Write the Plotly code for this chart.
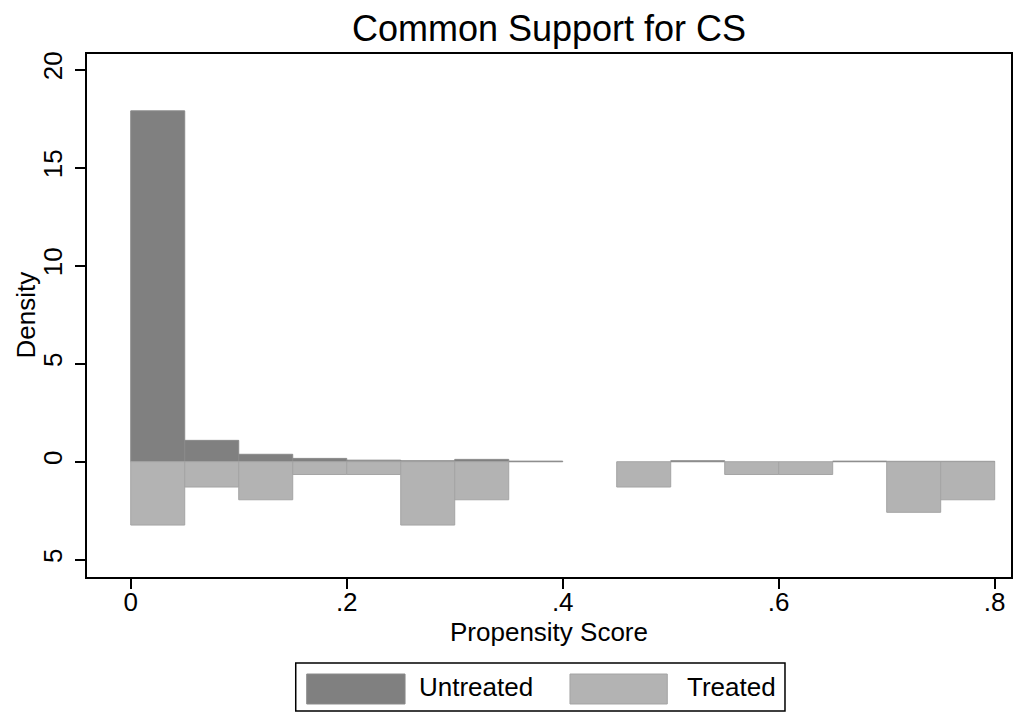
import plotly.graph_objects as go

# ---- data ----
bin_start = [0.00, 0.05, 0.10, 0.15, 0.20, 0.25, 0.30, 0.35,
             0.40, 0.45, 0.50, 0.55, 0.60, 0.65, 0.70, 0.75]
bin_width = 0.05
untreated_density = [17.9, 1.09, 0.38, 0.17, 0.08, 0.05, 0.12, 0.03,
                     0.0, 0.0, 0.05, 0.0, 0.0, 0.03, 0.02, 0.02]
treated_density = [3.23, 1.29, 1.94, 0.65, 0.65, 3.23, 1.94, 0.0,
                   0.0, 1.29, 0.0, 0.65, 0.65, 0.0, 2.58, 1.94]

x_ticks = [0, 0.2, 0.4, 0.6, 0.8]
x_ticktext = ["0", ".2", ".4", ".6", ".8"]
y_ticks = [-5, 0, 5, 10, 15, 20]
y_ticktext = ["5", "0", "5", "10", "15", "20"]

series_names = ["Untreated", "Treated"]
fill_colors = ["#808080", "#b3b3b3"]
line_colors = ["#8a8a8a", "#a4a4a4"]

FONT = "Liberation Sans, Arial, sans-serif"

# empty bins draw nothing
untreated_y = [v if v > 0 else None for v in untreated_density]
treated_y = [-v if v > 0 else None for v in treated_density]

fig = go.Figure()
fig.add_trace(go.Bar(
    x=bin_start, y=untreated_y, base=0, width=bin_width, offset=0,
    name=series_names[0],
    marker=dict(color=fill_colors[0], line=dict(color=line_colors[0], width=1)),
    showlegend=False,
))
fig.add_trace(go.Bar(
    x=bin_start, y=treated_y, base=0, width=bin_width, offset=0,
    name=series_names[1],
    marker=dict(color=fill_colors[1], line=dict(color=line_colors[1], width=1)),
    showlegend=False,
))

fig.update_layout(
    template="none",
    width=1013, height=713,
    margin=dict(l=87, r=2, t=54, b=136, autoexpand=False),
    paper_bgcolor="white", plot_bgcolor="white",
    barmode="overlay",
    showlegend=False,
    font=dict(family=FONT, color="black"),
    title=dict(text="Common Support for CS", x=0.5, xref="paper", xanchor="center",
               y=1 - 28.5 / 713, yref="container", yanchor="middle",
               font=dict(size=36, family=FONT, color="black")),
    xaxis=dict(range=[-0.0405, 0.8151], tickvals=x_ticks, ticktext=x_ticktext,
               automargin=False,
               ticks="outside", ticklen=10, tickwidth=1.5, tickcolor="black",
               ticklabelstandoff=-9,
               showline=True, linecolor="black", linewidth=2, mirror=True,
               showgrid=False, zeroline=False,
               tickfont=dict(size=26, family=FONT)),
    yaxis=dict(range=[-5.88, 20.8], tickvals=y_ticks, ticktext=y_ticktext,
               automargin=False,
               ticks="outside", ticklen=10, tickwidth=1.5, tickcolor="black",
               tickangle=-90, ticklabelstandoff=3,
               showline=True, linecolor="black", linewidth=2, mirror=True,
               showgrid=False, zeroline=False,
               tickfont=dict(size=26, family=FONT)),
)

# axis titles
fig.add_annotation(xref="paper", yref="paper", x=(25 - 87) / 924, y=0.5, text="Density",
                   textangle=-90, showarrow=False, xanchor="center", yanchor="middle",
                   font=dict(size=26, family=FONT, color="black"))
fig.add_annotation(xref="paper", yref="paper", x=0.5, y=(577 - 632) / 523, text="Propensity Score",
                   showarrow=False, xanchor="center", yanchor="middle",
                   font=dict(size=26, family=FONT, color="black"))

# ---- legend drawn as a boxed key below the plot ----
shapes = [
    dict(type="rect", xref="paper", yref="paper", x0=0.2259, x1=0.7554, y0=-0.2562, y1=-0.1644,
         line=dict(color="black", width=1.5), fillcolor="white"),
    dict(type="rect", xref="paper", yref="paper", x0=0.2378, x1=0.3442, y0=-0.2428, y1=-0.1855,
         line=dict(color=line_colors[0], width=1), fillcolor=fill_colors[0]),
    dict(type="rect", xref="paper", yref="paper", x0=0.5227, x1=0.6280, y0=-0.2428, y1=-0.1855,
         line=dict(color=line_colors[1], width=1), fillcolor=fill_colors[1]),
]
for s in shapes:
    fig.add_shape(**s)
fig.add_annotation(xref="paper", yref="paper", x=0.3568, y=(577 - 687) / 523, text=series_names[0],
                   showarrow=False, xanchor="left", yanchor="middle",
                   font=dict(size=26, family=FONT, color="black"))
fig.add_annotation(xref="paper", yref="paper", x=0.6472, y=(577 - 687) / 523, text=series_names[1],
                   showarrow=False, xanchor="left", yanchor="middle",
                   font=dict(size=26, family=FONT, color="black"))

fig.write_html(
    "out.html",
    config={"displayModeBar": False},
    post_script="document.body.style.margin='0';document.body.style.overflow='hidden';",
)
